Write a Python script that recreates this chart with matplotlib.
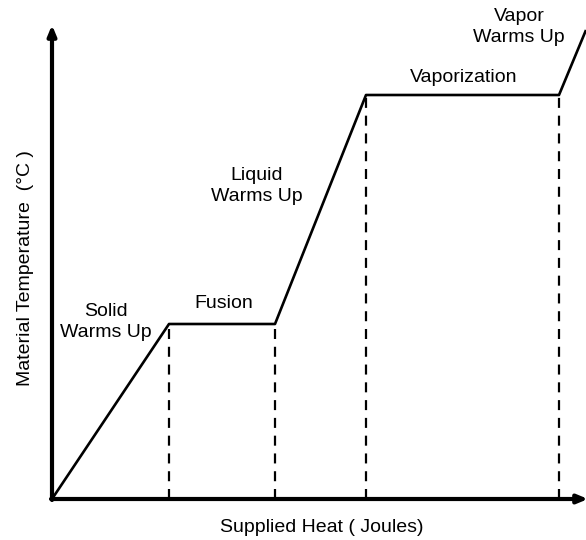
import matplotlib.pyplot as plt

plt.rcParams['font.family'] = ['Liberation Sans', 'DejaVu Sans']

# heat supplied vs temperature (arbitrary units)
heat = [0, 117, 223, 314, 507, 534]
temp = [0, 175, 175, 404, 404, 469]
# phase boundaries (dashed drop lines)
bound_heat = [117, 223, 314, 507]
bound_temp = [175, 175, 404, 404]

labels = ["Solid\nWarms Up", "Fusion", "Liquid\nWarms Up", "Vaporization", "Vapor\nWarms Up"]
label_x = [54, 172, 205, 412, 467]
label_y = [177, 195, 313, 421, 472]

fig = plt.figure(figsize=(5.86, 5.40), dpi=100)
ax = fig.add_axes([52 / 586, 41 / 540, 534 / 586, 472 / 540])
ax.set_xlim(0, 534)
ax.set_ylim(0, 472)
ax.axis('off')

ax.plot(heat, temp, color='black', lw=1.9, clip_on=False, solid_capstyle='butt')
for x, y in zip(bound_heat, bound_temp):
    ax.plot([x, x], [0, y], color='black', lw=1.6, ls=(0, (4.5, 3.5)))

# axes with arrows
ax.annotate('', xy=(536, 0), xytext=(-1, 0),
            arrowprops=dict(arrowstyle='-|>,head_length=0.6,head_width=0.25', lw=3, color='black',
                            shrinkA=0, shrinkB=0), annotation_clip=False)
ax.annotate('', xy=(0, 474), xytext=(0, -1),
            arrowprops=dict(arrowstyle='-|>,head_length=0.6,head_width=0.25', lw=3, color='black',
                            shrinkA=0, shrinkB=0), annotation_clip=False)

for t, x, y in zip(labels, label_x, label_y):
    ax.text(x, y, t, ha='center', va='center', fontsize=14, linespacing=1.35, clip_on=False)

fig.text(322 / 586, 1 - 527 / 540, "Supplied Heat ( Joules)", ha='center', va='center', fontsize=14)
fig.text(25 / 586, 1 - 268 / 540, "Material Temperature  (\u00b0C )", ha='center', va='center',
         rotation=90, fontsize=14)

fig.savefig("out.png", dpi=100)
